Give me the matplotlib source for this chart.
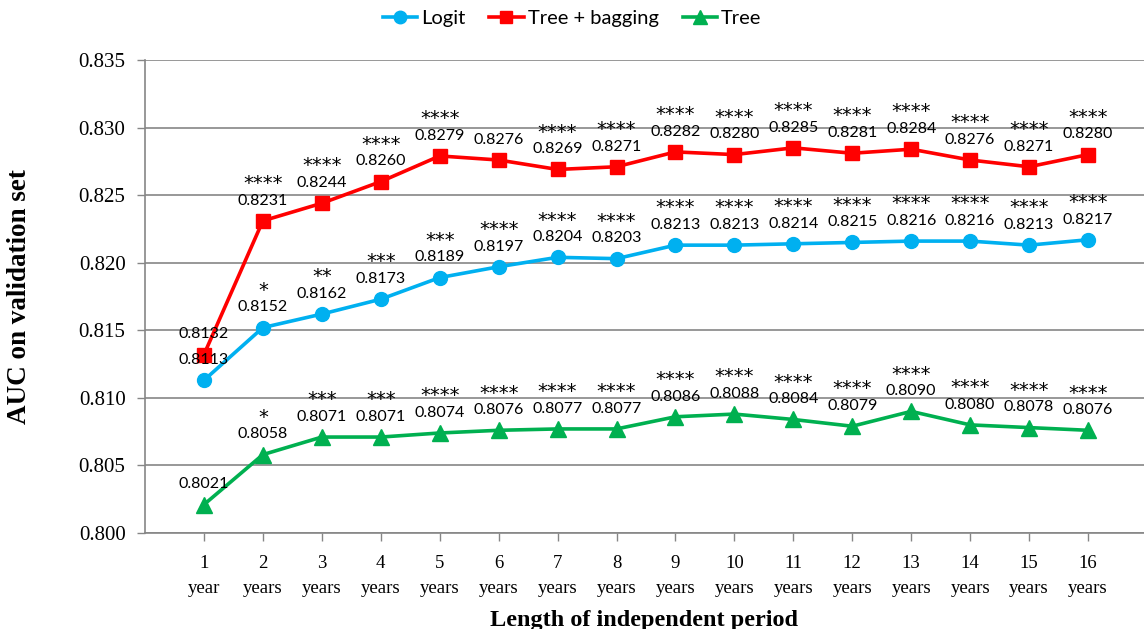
import matplotlib
matplotlib.use("Agg")
from matplotlib import pyplot as plt
from matplotlib.ticker import FormatStrFormatter

# valores
periodos = ["1\nyear"] + [str(i) + "\nyears" for i in range(2, 17)]
logit = [0.8113, 0.8152, 0.8162, 0.8173, 0.8189, 0.8197, 0.8204, 0.8203,
         0.8213, 0.8213, 0.8214, 0.8215, 0.8216, 0.8216, 0.8213, 0.8217]
bagging = [0.8132, 0.8231, 0.8244, 0.8260, 0.8279, 0.8276, 0.8269, 0.8271,
           0.8282, 0.8280, 0.8285, 0.8281, 0.8284, 0.8276, 0.8271, 0.8280]
tree = [0.8021, 0.8058, 0.8071, 0.8071, 0.8074, 0.8076, 0.8077, 0.8077,
        0.8086, 0.8088, 0.8084, 0.8079, 0.8090, 0.8080, 0.8078, 0.8076]
est_logit = ["", "*", "**", "***", "***"] + ["****"] * 11
est_bagging = ["", "****", "****", "****", "****", ""] + ["****"] * 10
est_tree = ["", "*", "***", "***"] + ["****"] * 12

x = list(range(1, len(periodos) + 1))

fig = plt.figure(figsize=(11.44, 6.29), dpi=100)
ax = fig.add_axes([145 / 1144, 1 - 533 / 629, 1 - 145 / 1144, (533 - 60) / 629])

gris = "#868686"
series = [
    (logit, est_logit, "#00B0F0", "o", 10, "Logit"),
    (bagging, est_bagging, "#FF0000", "s", 10, "Tree + bagging"),
    (tree, est_tree, "#00B050", "^", 11, "Tree"),
]
for y, est, color, mk, ms, nombre in series:
    ax.plot(x, y, color=color, lw=2.6, marker=mk, ms=ms, label=nombre, zorder=3)
    for xi, yi, s in zip(x, y, est):
        ax.annotate("%.4f" % yi, (xi, yi), xytext=(0, 9.5), textcoords="offset points",
                    ha="center", va="bottom", fontsize=11.5, family="Lato", zorder=4)
        if s:
            ax.annotate(s, (xi, yi), xytext=(0, 20), textcoords="offset points",
                        ha="center", va="bottom", fontsize=14, family="DejaVu Sans", zorder=4)

ax.set_ylim(0.800, 0.835)
ax.set_xlim(0, 16.95)
ax.set_yticks([0.800 + 0.005 * i for i in range(8)])
ax.yaxis.set_major_formatter(FormatStrFormatter("%.3f"))
ax.set_xticks(x)
ax.set_xticklabels(periodos, family="Liberation Serif", fontsize=13.5, linespacing=1.6)
for t in ax.get_yticklabels():
    t.set_family("Liberation Serif")
    t.set_fontsize(15)
ax.grid(axis="y", color=gris, lw=1.2)
ax.set_axisbelow(True)
for lado in ["top", "right"]:
    ax.spines[lado].set_visible(False)
for lado in ["left", "bottom"]:
    ax.spines[lado].set_color(gris)
    ax.spines[lado].set_linewidth(1.2)
ax.tick_params(axis="both", color=gris, length=6, width=1)
ax.tick_params(axis="x", pad=10)
ax.tick_params(axis="y", pad=8)

ax.set_ylabel("AUC on validation set", family="Liberation Serif", fontsize=19.5,
              fontweight="bold")
ax.yaxis.set_label_coords(-0.113, 0.5)
ax.set_xlabel("Length of independent period", family="Liberation Serif", fontsize=17.5,
              fontweight="bold", va="top")
ax.xaxis.set_label_coords(0.5, -0.163)

fig.legend(loc="center", bbox_to_anchor=(0.5, 0.971), ncol=3, frameon=False,
           prop={"family": "Lato", "size": 14.5}, handlelength=1.7, columnspacing=1.2,
           handletextpad=0.2, markerscale=0.9)

fig.savefig("out.png", dpi=100)
